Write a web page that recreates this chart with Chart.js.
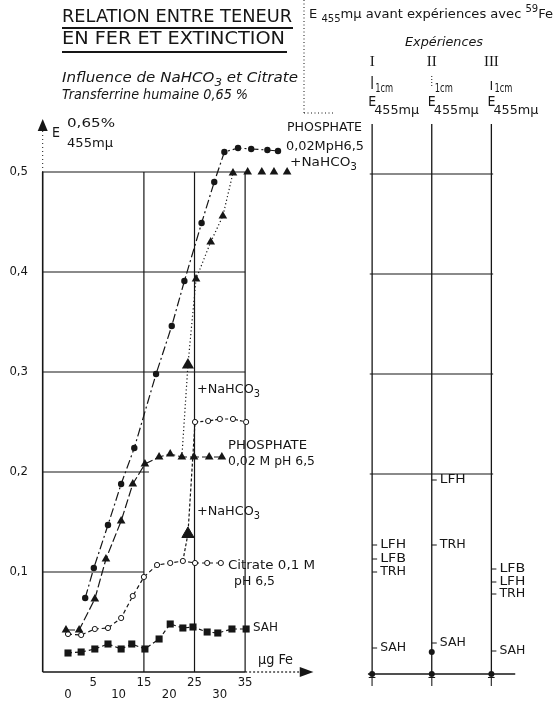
<!DOCTYPE html>
<html>
<head>
<meta charset="utf-8">
<script src="https://cdn.jsdelivr.net/npm/chart.js@4.4.1/dist/chart.umd.min.js"></script>
<style>
  html, body { margin: 0; padding: 0; background: #fff; }
  #wrap { position: relative; width: 555px; height: 702px; }
  canvas { position: absolute; left: 0; top: 0; }
</style>
</head>
<body>
<div id="wrap">
  <canvas id="left" width="555" height="702"></canvas>
  <canvas id="right" width="555" height="702"></canvas>
</div>
<script>
const ink = '#161616';
const sans = '"DejaVu Sans Condensed", "DejaVu Sans", sans-serif';
const serif = '"Liberation Serif", "DejaVu Serif", serif';

// left graph : µg Fe (x) against E 455mµ (y)
const yTicks = [0.1, 0.2, 0.3, 0.4, 0.5];
const xTicks = [0, 5, 10, 15, 20, 25, 30, 35];

// PHOSPHATE 0,02M pH 6,5 + NaHCO3 (filled circles)
const phosBicX = [3.4, 5.1, 7.9, 10.5, 13.1, 17.4, 20.5, 23.0, 26.4, 28.9, 30.9, 33.6, 36.2, 39.4, 41.5];
const phosBicY = [0.074, 0.104, 0.147, 0.188, 0.224, 0.298, 0.346, 0.391, 0.449, 0.490, 0.520, 0.524, 0.523, 0.522, 0.521];

// PHOSPHATE 0,02M pH 6,5 (filled triangles)
const phosX = [-0.4, 2.2, 5.3, 7.5, 10.5, 12.8, 15.2, 18.0, 20.2, 22.5, 24.9, 27.9, 30.4];
const phosY = [0.042, 0.042, 0.073, 0.113, 0.151, 0.188, 0.208, 0.215, 0.218, 0.215, 0.215, 0.215, 0.215];

// phosphate, NaHCO3 added afterwards (dotted, triangles)
const phosAddX = [22.5, 23.7, 25.3, 28.2, 30.6, 32.6, 35.5, 38.3, 40.7, 43.3];
const phosAddY = [0.215, 0.307, 0.393, 0.430, 0.456, 0.499, 0.500, 0.500, 0.500, 0.500];

// Citrate 0,1M pH 6,5 (open circles)
const citX = [0, 2.6, 5.3, 7.9, 10.5, 12.8, 15.0, 17.6, 20.2, 22.7, 25.1, 27.5, 30.2];
const citY = [0.038, 0.037, 0.043, 0.044, 0.054, 0.076, 0.095, 0.107, 0.109, 0.111, 0.109, 0.109, 0.109];

// citrate, NaHCO3 added afterwards
const citAddX = [22.7, 23.7, 25.1, 27.7, 30.0, 32.6, 35.2];
const citAddY = [0.111, 0.138, 0.250, 0.251, 0.253, 0.253, 0.250];

// SAH (filled squares)
const sahX = [0, 2.6, 5.3, 7.9, 10.5, 12.6, 15.2, 18.0, 20.2, 22.7, 24.7, 27.5, 29.6, 32.4, 35.2];
const sahY = [0.019, 0.020, 0.023, 0.028, 0.023, 0.028, 0.023, 0.033, 0.048, 0.044, 0.045, 0.040, 0.039, 0.043, 0.043];

// right panel : E 455mµ before the 59Fe experiments
const expCols = [1, 2, 3];
const expNames = ['I', 'II', 'III'];
const expLabels = [['LFH', 'LFB', 'TRH', 'SAH'], ['LFH', 'TRH', 'SAH'], ['LFB', 'LFH', 'TRH', 'SAH']];
const expValues = [[0.129, 0.115, 0.102, 0.026], [0.194, 0.129, 0.031], [0.105, 0.092, 0.080, 0.023]];
const expDotX = [1, 2, 3, 2];
const expDotY = [0, 0, 0, 0.022];

const mk = (xs, ys) => xs.map((x, i) => ({ x, y: ys[i] }));

const seg = (ctx, x1, y1, x2, y2, w = 1.2, dash = []) => {
    ctx.save();
    ctx.strokeStyle = ink;
    ctx.lineWidth = w;
    ctx.setLineDash(dash);
    ctx.beginPath();
    ctx.moveTo(x1, y1);
    ctx.lineTo(x2, y2);
    ctx.stroke();
    ctx.restore();
};

const tri = (ctx, pts) => {
    ctx.save();
    ctx.fillStyle = ink;
    ctx.beginPath();
    ctx.moveTo(pts[0], pts[1]);
    ctx.lineTo(pts[2], pts[3]);
    ctx.lineTo(pts[4], pts[5]);
    ctx.closePath();
    ctx.fill();
    ctx.restore();
};

// text in parts, {t, sub} / {t, sup} for indices, optional fit to a width
const rich = (ctx, parts, x, y, size, opts = {}) => {
    ctx.save();
    const fam = opts.family || sans;
    const style = opts.italic ? 'italic ' : '';
    const fontFor = p => `${style}${p.sub || p.sup ? Math.round(size * 0.75) : size}px ${fam}`;
    const items = parts.map(p => typeof p === 'string' ? { t: p } : p);
    let total = 0;
    items.forEach(p => { ctx.font = fontFor(p); p.w = ctx.measureText(p.t).width; total += p.w; });
    const k = opts.width ? opts.width / total : 1;
    const x0 = opts.align === 'center' ? x - total * k / 2 : opts.align === 'right' ? x - total * k : x;
    ctx.translate(x0, y);
    ctx.scale(k, 1);
    ctx.fillStyle = ink;
    ctx.textBaseline = 'middle';
    let ox = 0;
    items.forEach(p => {
        ctx.font = fontFor(p);
        const dy = p.sub ? size * 0.35 : p.sup ? -size * 0.4 : 0;
        ctx.fillText(p.t, ox, dy);
        ox += p.w;
    });
    ctx.restore();
};

const bic = ['+NaHCO', { t: '3', sub: true }];

const leftDecor = {
    id: 'leftDecor',
    beforeDraw(chart) {
        const ctx = chart.ctx;
        ctx.save();
        ctx.fillStyle = '#fff';
        ctx.fillRect(0, 0, chart.width, chart.height);
        ctx.restore();
    },
    beforeDatasetsDraw(chart) {
        const ctx = chart.ctx;
        const px = v => chart.scales.x.getPixelForValue(v);
        const py = v => chart.scales.y.getPixelForValue(v);

        // grid, partly drawn like on the original
        seg(ctx, px(-5), py(0.1), px(15), py(0.1));
        seg(ctx, px(-5), py(0.2), px(16), py(0.2));
        [0.3, 0.4, 0.5].forEach(v => seg(ctx, px(-5), py(v), px(35), py(v)));
        [15, 25, 35].forEach(v => seg(ctx, px(v), py(0), px(v), py(0.5)));

        // axes with arrows
        seg(ctx, px(-5), py(0), px(-5), py(0.5), 1.6);
        seg(ctx, px(-5), py(0.5), px(-5), py(0.541), 1, [1, 3]);
        tri(ctx, [px(-5), py(0.553), px(-5) - 5, py(0.541), px(-5) + 5, py(0.541)]);
        seg(ctx, px(-5), py(0), px(35), py(0), 1.6);
        seg(ctx, px(35), py(0), px(46), py(0), 1.2, [2, 2]);
        tri(ctx, [px(48.5), py(0), px(45.8), py(0) - 5, px(45.8), py(0) + 5]);
    },
    afterDraw(chart) {
        const ctx = chart.ctx;
        const px = v => chart.scales.x.getPixelForValue(v);
        const py = v => chart.scales.y.getPixelForValue(v);

        // title
        rich(ctx, ['RELATION ENTRE TENEUR'], 62, 17, 18, { width: 230 });
        seg(ctx, 62, 28, 293, 28, 2.2);
        rich(ctx, ['EN FER ET EXTINCTION'], 62, 39.5, 18, { width: 223 });
        seg(ctx, 62, 52, 287, 52, 2.2);
        rich(ctx, ['Influence de NaHCO', { t: '3', sub: true }, ' et Citrate'], 62, 78, 14, { italic: true, width: 236 });
        rich(ctx, ['Transferrine humaine 0,65 %'], 62, 95, 14, { italic: true, width: 186 });

        // separator towards the right panel
        seg(ctx, 304, 0, 304, 113, 1, [1, 2.5]);
        seg(ctx, 304, 113, 333, 113, 1, [1, 2.5]);

        // axis titles
        rich(ctx, ['E'], 52, 133, 14);
        rich(ctx, ['0,65%'], 67, 124, 13, { width: 48 });
        rich(ctx, ['455mμ'], 67, 144, 13, { width: 46 });
        rich(ctx, ['μg Fe'], 258, 660, 14, { width: 35 });

        yTicks.forEach(v => rich(ctx, [v.toFixed(1).replace('.', ',')], 28, py(v), 13, { align: 'right' }));
        xTicks.forEach(v => rich(ctx, [String(v)], px(v), (v / 5) % 2 ? 683 : 695, 13, { align: 'center' }));

        // series labels
        rich(ctx, ['PHOSPHATE'], 287, 128, 13, { width: 75 });
        rich(ctx, ['0,02MpH6,5'], 286, 147, 13, { width: 78 });
        rich(ctx, bic, 290, 163, 13, { width: 67 });
        rich(ctx, bic, 197, 390, 13, { width: 63 });
        rich(ctx, ['PHOSPHATE'], 228, 446, 13, { width: 79 });
        rich(ctx, ['0,02 M pH 6,5'], 228, 462, 13, { width: 87 });
        rich(ctx, bic, 197, 512, 13, { width: 63 });
        rich(ctx, ['Citrate 0,1 M'], 228, 566, 13, { width: 87 });
        rich(ctx, ['pH 6,5'], 234, 582, 13, { width: 41 });
        rich(ctx, ['SAH'], 253, 628, 13, { width: 25 });
    }
};

const lineSet = (data, dash, extra) => Object.assign({
    data,
    showLine: true,
    borderColor: ink,
    borderWidth: 1.2,
    borderDash: dash,
    pointBackgroundColor: ink,
    pointBorderColor: ink,
    pointBorderWidth: 0,
    clip: false
}, extra);

const flatTop = c => c.p0.parsed.y >= 0.499 && c.p1.parsed.y >= 0.499 ? 'rgba(0,0,0,0)' : ink;

const leftConf = {
    type: 'scatter',
    data: {
        datasets: [
            lineSet(mk(phosBicX, phosBicY), [9, 3, 2, 3], { pointStyle: 'circle', pointRadius: 3.2 }),
            lineSet(mk(phosX, phosY), [9, 3], { pointStyle: 'triangle', pointRadius: 5 }),
            lineSet(mk(phosAddX, phosAddY), [1.2, 2.5], {
                pointStyle: 'triangle',
                pointRadius: phosAddX.map((x, i) => i === 0 ? 0 : i === 1 ? 7 : 5),
                segment: { borderColor: flatTop }
            }),
            lineSet(mk(citX, citY), [4, 3], { pointStyle: 'circle', pointRadius: 2.6, pointBackgroundColor: '#fff', pointBorderWidth: 1 }),
            lineSet(mk(citAddX, citAddY), [3, 2], {
                pointStyle: citAddX.map((x, i) => i === 1 ? 'triangle' : 'circle'),
                pointRadius: citAddX.map((x, i) => i === 0 ? 0 : i === 1 ? 7 : 2.6),
                pointBackgroundColor: citAddX.map((x, i) => i === 1 ? ink : '#fff'),
                pointBorderWidth: 1
            }),
            lineSet(mk(sahX, sahY), [4, 3], { pointStyle: 'rect', pointRadius: 5 })
        ]
    },
    options: {
        responsive: false,
        animation: false,
        events: [],
        layout: { padding: { left: 42.7, right: 244.1, top: 122, bottom: 30 } },
        scales: {
            x: { type: 'linear', min: -5, max: 48, display: false },
            y: { type: 'linear', min: 0, max: 0.55, display: false }
        },
        plugins: { legend: { display: false }, tooltip: { enabled: false } }
    },
    plugins: [leftDecor]
};

const rightDecor = {
    id: 'rightDecor',
    beforeDatasetsDraw(chart) {
        const ctx = chart.ctx;
        const px = v => chart.scales.x.getPixelForValue(v);
        const py = v => chart.scales.y.getPixelForValue(v);

        expCols.forEach(c => seg(ctx, px(c), py(0), px(c), py(0.55), 1.3));
        [0.2, 0.3, 0.4, 0.5].forEach(v => seg(ctx, px(0.96), py(v), px(3.03), py(v)));
        seg(ctx, px(0.93), py(0), px(3.4), py(0), 1.4);
    },
    afterDraw(chart) {
        const ctx = chart.ctx;
        const px = v => chart.scales.x.getPixelForValue(v);
        const py = v => chart.scales.y.getPixelForValue(v);

        rich(ctx, ['E ', { t: '455', sub: true }, 'mμ avant expériences avec ', { t: '59', sup: true }, 'Fe'], 309, 15, 13, { width: 244 });
        rich(ctx, ['Expériences'], 444, 43, 13, { italic: true, align: 'center', width: 78 });

        expCols.forEach((c, i) => {
            const cx = px(c);
            rich(ctx, [expNames[i]], cx, 62, 15, { family: serif, align: 'center' });
            if (i === 1) seg(ctx, cx, 76, cx, 86, 1, [1, 2]);
            else seg(ctx, cx, i === 0 ? 76 : 81, cx, i === 0 ? 89 : 90, 1.2);
            rich(ctx, ['1cm'], cx + 3, 89, 13, { width: 18 });
            rich(ctx, ['E'], cx - 4, 102, 14);
            rich(ctx, ['455mμ'], cx + 2, 111, 13, { width: 45 });
            rich(ctx, ['T'], cx, 683, 12, { align: 'center' });

            expLabels[i].forEach((lab, j) => {
                const y = py(expValues[i][j]);
                seg(ctx, cx, y, cx + 5, y, 1);
                rich(ctx, [lab], cx + 8, y, 13, { width: 26 });
            });
        });
    }
};

const rightConf = {
    type: 'scatter',
    data: {
        datasets: [{
            data: mk(expDotX, expDotY),
            pointStyle: 'circle',
            pointRadius: 3,
            pointBackgroundColor: ink,
            pointBorderWidth: 0,
            clip: false
        }]
    },
    options: {
        responsive: false,
        animation: false,
        events: [],
        layout: { padding: { left: 312.5, right: 0.5, top: 124, bottom: 28 } },
        scales: {
            x: { type: 'linear', min: 0, max: 4, display: false },
            y: { type: 'linear', min: 0, max: 0.55, display: false }
        },
        plugins: { legend: { display: false }, tooltip: { enabled: false } }
    },
    plugins: [rightDecor]
};

new Chart(document.getElementById('left'), leftConf);
new Chart(document.getElementById('right'), rightConf);
</script>
</body>
</html>
